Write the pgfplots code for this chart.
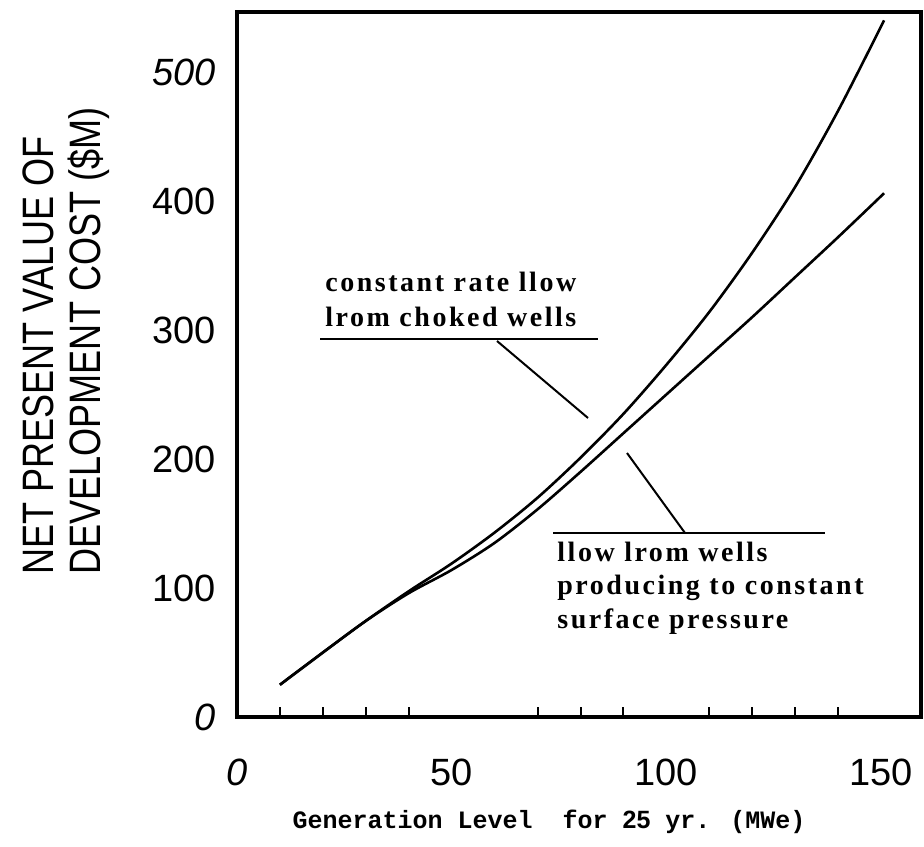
\documentclass[border=0pt]{standalone}
\usepackage{pgfplots}
\pgfplotsset{compat=1.18}
\usepackage{fontspec}
\setmainfont{Liberation Sans}
\newfontfamily\ylabfont[FakeStretch=0.82]{Liberation Sans}
\newfontfamily\annfont[LetterSpace=9]{Liberation Serif}
\newfontfamily\monofont{Liberation Mono}
\begin{document}
\begin{tikzpicture}
\path[use as bounding box] (-118.5pt,-64.5pt) rectangle (343.5pt,358.5pt);
\begin{axis}[
  at={(0,0)}, anchor=south west,
  scale only axis, width=342pt, height=352.5pt,
  xmin=0, xmax=159.3, ymin=0, ymax=546.5,
  axis line style={line width=1.6pt, black},
  xtick={0,50,100,150},
  xticklabels={\textit{0},50,100,150},
  minor xtick={10,20,30,40,70,80,90,110,120,130,140},
  ytick={0,100,200,300,400,500},
  yticklabels={\textit{0},100,200,300,400,\textit{500}},
  major tick length=0pt,
  minor tick length=5pt,
  tick align=inside,
  xtick pos=left, ytick pos=left,
  tick style={line width=1pt, black},
  tick label style={font=\fontsize{19}{20}\selectfont},
  xticklabel style={anchor=center, inner sep=0pt, yshift=-27.5pt},
  yticklabel style={anchor=east, inner sep=0pt, xshift=-10.5pt},
]
\addplot[black, line width=1.3pt, smooth] coordinates {
 (10,25) (20,50) (30,74.5) (40,97.5) (50,119) (60,143) (70,170) (80,201)
 (90,235) (100,273) (110,314) (120,360) (130,411) (140,470) (150.7,540)};
\addplot[black, line width=1.3pt, smooth] coordinates {
 (10,25) (20,50) (30,74.5) (40,96) (50,114) (60,135) (70,161) (80,190)
 (90,220) (100,250) (110,280) (120,310) (130,341) (140,372) (150.7,406)};
\end{axis}
% y label
\node[rotate=90, anchor=north west, align=left, inner sep=0pt,
  font=\ylabfont\fontsize{22}{23.5}\selectfont] at (-107.5pt,71pt)
  {NET PRESENT VALUE OF\\DEVELOPMENT COST (\$M)};
% x label
\node[anchor=center, inner sep=0pt, font=\monofont\bfseries\fontsize{12.5}{14}\selectfont]
  at (156pt,-52.5pt) {Generation Level\ \ for {\fontspec{Liberation Sans}\bfseries 25} yr. (MWe)};
% annotation 1
\node[anchor=base west, inner sep=0pt, font=\annfont\bfseries\fontsize{14}{15}\selectfont]
  at (44pt,212.5pt) {constant rate llow};
\node[anchor=base west, inner sep=0pt, font=\annfont\bfseries\fontsize{14}{15}\selectfont]
  at (44pt,195pt) {lrom choked wells};
\draw[line width=1.1pt] (41.5pt,189pt) -- (180.5pt,189pt);
\draw[line width=1pt] (130pt,188pt) -- (175.5pt,149.5pt);
% annotation 2
\draw[line width=1.1pt] (158pt,92pt) -- (294pt,92pt);
\draw[line width=1pt] (224pt,92pt) -- (195pt,132pt);
\node[anchor=base west, inner sep=0pt, font=\annfont\bfseries\fontsize{14}{15}\selectfont]
  at (160pt,77.6pt) {llow lrom wells};
\node[anchor=base west, inner sep=0pt, font=\annfont\bfseries\fontsize{14}{15}\selectfont]
  at (160pt,61.4pt) {producing to constant};
\node[anchor=base west, inner sep=0pt, font=\annfont\bfseries\fontsize{14}{15}\selectfont]
  at (160pt,44.3pt) {surface pressure};
\end{tikzpicture}
\end{document}
